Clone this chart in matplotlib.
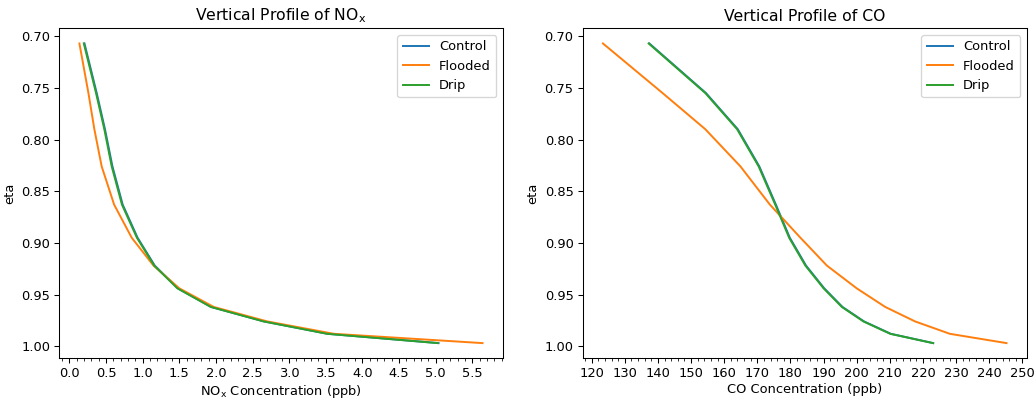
import matplotlib
matplotlib.use("Agg")
import matplotlib.pyplot as plt
from matplotlib.ticker import MultipleLocator

eta = [0.707, 0.755, 0.790, 0.826, 0.863, 0.895, 0.922, 0.944, 0.962, 0.976, 0.988, 0.997]

nox_control = [0.205, 0.372, 0.485, 0.587, 0.727, 0.930, 1.165, 1.480, 1.935, 2.655, 3.525, 5.04]
nox_flooded = [0.136, 0.259, 0.340, 0.440, 0.610, 0.850, 1.148, 1.500, 1.970, 2.700, 3.610, 5.64]
nox_drip    = [0.196, 0.363, 0.476, 0.577, 0.717, 0.921, 1.157, 1.474, 1.930, 2.650, 3.520, 5.03]

co_control = [137.4, 154.5, 164.1, 170.6, 175.6, 179.8, 184.7, 190.2, 195.7, 202.2, 210.3, 223.1]
co_flooded = [123.4, 141.4, 154.3, 164.9, 173.8, 183.0, 191.0, 200.0, 208.6, 217.6, 228.1, 245.2]
co_drip    = [137.2, 154.3, 163.9, 170.4, 175.4, 179.6, 184.5, 190.0, 195.5, 202.0, 210.1, 223.0]

DPI = 94
fig = plt.figure(figsize=(1036 / DPI, 401 / DPI), dpi=DPI)
ax1 = fig.add_axes([0.0572, 0.107, 0.428, 0.822])
ax2 = fig.add_axes([0.5625, 0.107, 0.4285, 0.822])

ax1.plot(nox_control, eta, label="Control")
ax1.plot(nox_flooded, eta, label="Flooded")
ax1.plot(nox_drip, eta, label="Drip")
ax1.invert_yaxis()
ax1.set_title("Vertical Profile of NO$_\\mathregular{x}$")
ax1.set_xlabel("NO$_\\mathregular{x}$ Concentration (ppb)", labelpad=2.5)
ax1.set_ylabel("eta")
ax1.xaxis.set_major_locator(MultipleLocator(0.5))
ax1.xaxis.set_minor_locator(MultipleLocator(0.1))
ax1.legend(loc="upper right")

ax2.plot(co_control, eta, label="Control")
ax2.plot(co_flooded, eta, label="Flooded")
ax2.plot(co_drip, eta, label="Drip")
ax2.invert_yaxis()
ax2.set_title("Vertical Profile of CO")
ax2.set_xlabel("CO Concentration (ppb)", labelpad=2.5)
ax2.set_ylabel("eta")
ax2.xaxis.set_major_locator(MultipleLocator(10))
ax2.xaxis.set_minor_locator(MultipleLocator(2))
ax2.legend(loc="upper right")

fig.savefig("out.png", dpi=DPI)
